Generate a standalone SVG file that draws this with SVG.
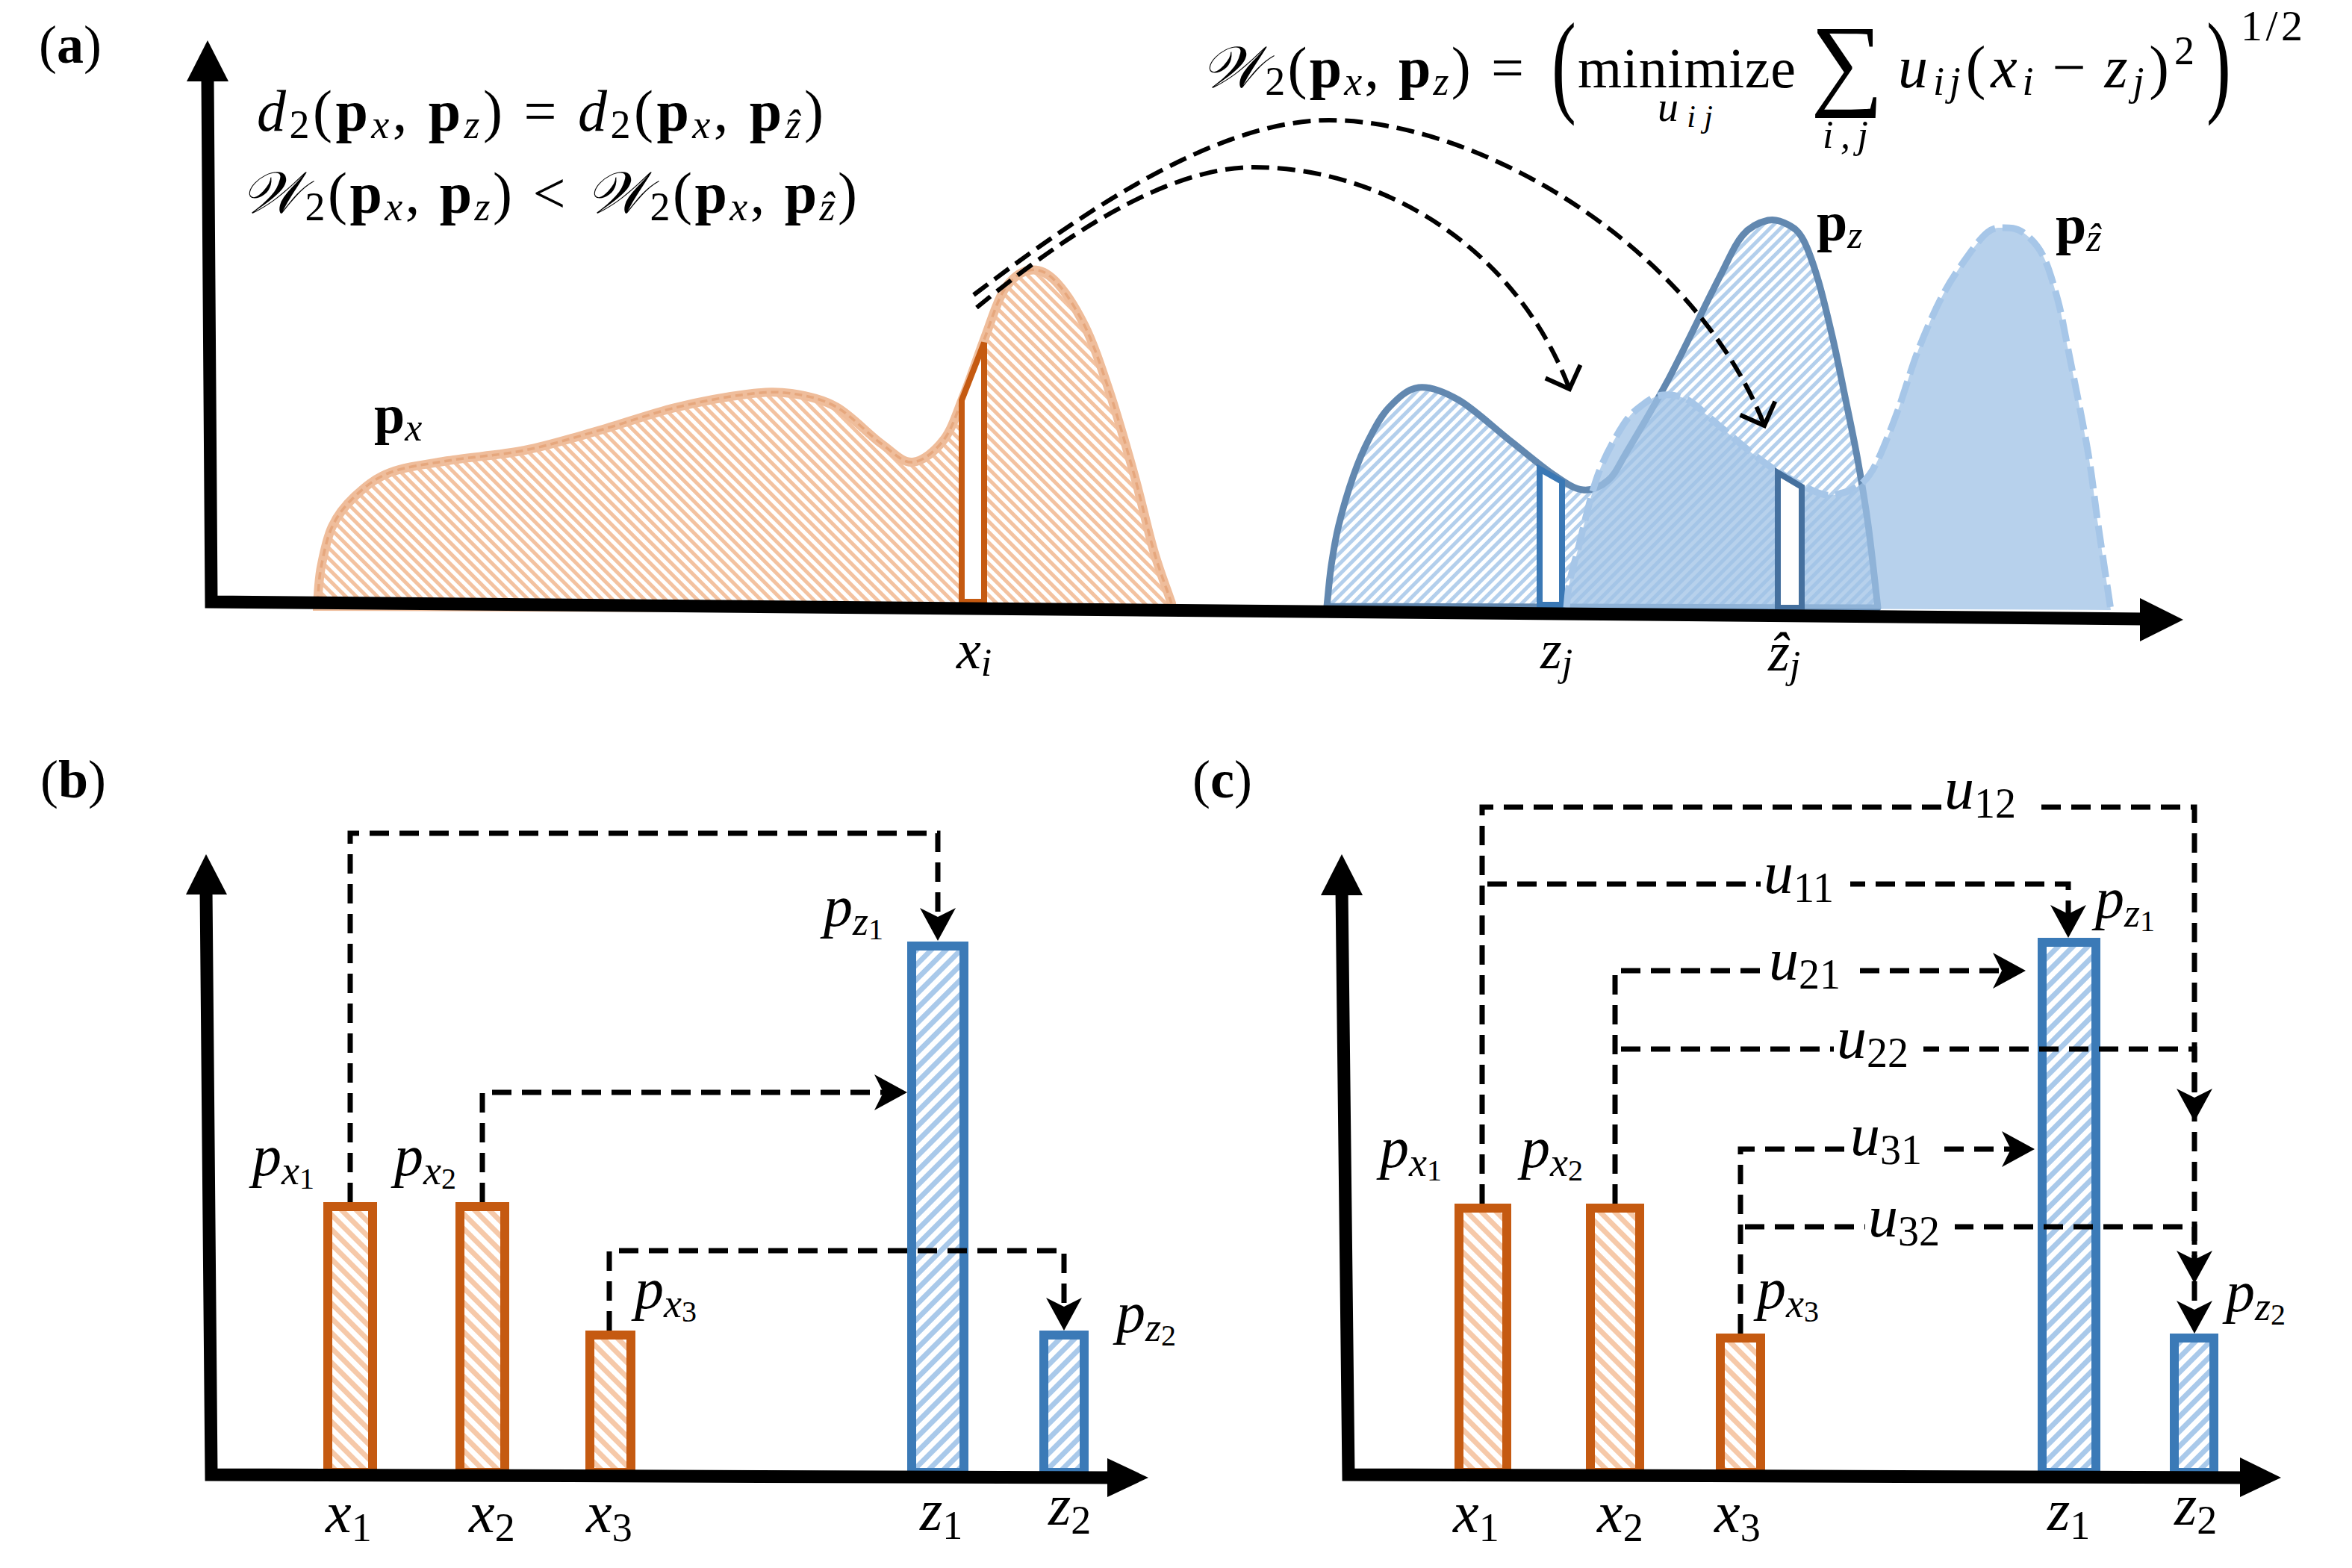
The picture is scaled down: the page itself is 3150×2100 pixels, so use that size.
<svg xmlns="http://www.w3.org/2000/svg" width="3150" height="2100" viewBox="0 0 3150 2100" font-family="Liberation Serif, Times New Roman, serif">
<defs>
<style>
text,tspan{font-family:'Liberation Serif','Times New Roman',serif}
text{fill:#000}
.i{font-style:italic}
.n{font-style:normal}
.b{font-weight:bold}
.ax{fill:none;stroke:#000;stroke-width:17;stroke-linejoin:miter}
.ah{fill:#000}
.dl{fill:none;stroke:#000;stroke-width:7;stroke-dasharray:26 14}
.arc{fill:none;stroke:#000;stroke-width:6;stroke-dasharray:24 11}
.ob{fill:url(#hbo);stroke:#c55a11;stroke-width:12}
.bb{fill:url(#hbb);stroke:#3b7ab7;stroke-width:12}
.lb{font-size:78px}
.wb{fill:#fff}
</style>
<pattern id="hpx" patternUnits="userSpaceOnUse" width="10" height="10" patternTransform="rotate(-45)"><rect width="10" height="10" fill="#fff"/><rect width="5" height="10" fill="#f3c2a0"/></pattern>
<pattern id="hpz" patternUnits="userSpaceOnUse" width="10" height="10" patternTransform="rotate(45)"><rect width="10" height="10" fill="#fff"/><rect width="5" height="10" fill="#b3cfec"/></pattern>
<pattern id="hbo" patternUnits="userSpaceOnUse" width="14" height="14" patternTransform="rotate(-45)"><rect width="14" height="14" fill="#fff"/><rect width="7" height="14" fill="#f6c9a9"/></pattern>
<pattern id="hbb" patternUnits="userSpaceOnUse" width="14" height="14" patternTransform="rotate(45)"><rect width="14" height="14" fill="#fff"/><rect width="7" height="14" fill="#a9c9ea"/></pattern>
<marker id="st" markerUnits="userSpaceOnUse" viewBox="-30 -30 60 60" markerWidth="60" markerHeight="60" refX="0" refY="0" orient="auto"><path d="M20,0 L-24,-24 L-12,0 L-24,24 Z" fill="#000"/></marker>
<marker id="op" markerUnits="userSpaceOnUse" viewBox="-40 -40 80 80" markerWidth="80" markerHeight="80" refX="0" refY="0" orient="auto"><path d="M-25,-25 L0,0 L-25,25" fill="none" stroke="#000" stroke-width="6" stroke-dasharray="none"/></marker>
</defs>
<rect width="3150" height="2100" fill="#fff"/>

<!-- ===== Panel (a) ===== -->
<g id="panel-a">
<text x="52" y="84" font-size="72">(<tspan class="b">a</tspan>)</text>

<g id="curve-px">
<path d="M425,808 C426.7,792 426.7,777.2 430,760 C433.3,742.8 437.5,720.8 445,705 C452.5,689.2 462.2,677 475,665 C487.8,653 501.2,641 522,633 C542.8,625 569.8,622 600,617 C630.2,612 669,609.8 703,603 C737,596.2 770.5,585.5 804,576 C837.5,566.5 871.3,554 904,546 C936.7,538 974,531.2 1000,528 C1026,524.8 1040,524.2 1060,527 C1080,529.8 1100,533.8 1120,545 C1140,556.2 1163,581.7 1180,594 C1197,606.3 1208,619.8 1222,619 C1236,618.2 1252.5,604 1264,589 C1275.5,574 1282,551.3 1291,529 C1300,506.7 1309,478.5 1318,455 C1327,431.5 1335,403.5 1345,388 C1355,372.5 1366.8,364.2 1378,362 C1389.2,359.8 1399.7,362.8 1412,375 C1424.3,387.2 1439.8,410.5 1452,435 C1464.2,459.5 1473.8,488.5 1485,522 C1496.2,555.5 1509,600.2 1519,636 C1529,671.8 1536.7,708.3 1545,737 C1553.3,765.7 1561,784.3 1569,808 L1569,816 L425,812 Z" fill="url(#hpx)" stroke="#efbd9b" stroke-width="12"/>
<path d="M425,808 C426.7,792 426.7,777.2 430,760 C433.3,742.8 437.5,720.8 445,705 C452.5,689.2 462.2,677 475,665 C487.8,653 501.2,641 522,633 C542.8,625 569.8,622 600,617 C630.2,612 669,609.8 703,603 C737,596.2 770.5,585.5 804,576 C837.5,566.5 871.3,554 904,546 C936.7,538 974,531.2 1000,528 C1026,524.8 1040,524.2 1060,527 C1080,529.8 1100,533.8 1120,545 C1140,556.2 1163,581.7 1180,594 C1197,606.3 1208,619.8 1222,619 C1236,618.2 1252.5,604 1264,589 C1275.5,574 1282,551.3 1291,529 C1300,506.7 1309,478.5 1318,455 C1327,431.5 1335,403.5 1345,388 C1355,372.5 1366.8,364.2 1378,362 C1389.2,359.8 1399.7,362.8 1412,375 C1424.3,387.2 1439.8,410.5 1452,435 C1464.2,459.5 1473.8,488.5 1485,522 C1496.2,555.5 1509,600.2 1519,636 C1529,671.8 1536.7,708.3 1545,737 C1553.3,765.7 1561,784.3 1569,808" fill="none" stroke="#e6a77d" stroke-width="3.5" stroke-dasharray="10 6"/>
</g>
<g id="bar-xi"><path d="M1288,806 L1288,536 L1318,459 L1318,806 Z" fill="#fff" stroke="#c55a11" stroke-width="8" stroke-linejoin="miter"/></g>

<g id="curve-pz">
<path d="M1777,812 C1779,793.7 1780.3,775.2 1783,757 C1785.7,738.8 1788,723.2 1793,703 C1798,682.8 1806.3,655 1813,636 C1819.7,617 1825.2,604 1833,589 C1840.8,574 1848.8,557.7 1860,546 C1871.2,534.3 1884.3,520.7 1900,519 C1915.7,517.3 1933.8,524.3 1954,536 C1974.2,547.7 1999.8,572.3 2021,589 C2042.2,605.7 2064.5,624.8 2081,636 C2097.5,647.2 2107.8,654.8 2120,656 C2132.2,657.2 2144,651.8 2154,643 C2164,634.2 2166.7,625.3 2180,603 C2193.3,580.7 2213.8,547 2234,509 C2254.2,471 2284.3,407.3 2301,375 C2317.7,342.7 2322.8,328.3 2334,315 C2345.2,301.7 2357.8,297.3 2368,295 C2378.2,292.7 2387.2,296.7 2395,301 C2402.8,305.3 2408.3,308.7 2415,321 C2421.7,333.3 2428.3,352.7 2435,375 C2441.7,397.3 2448.8,428.2 2455,455 C2461.2,481.8 2466.5,509.2 2472,536 C2477.5,562.8 2483,588.2 2488,616 C2493,643.8 2497.5,670 2502,703 C2506.5,736 2510.7,777 2515,814 L1777,812 Z" fill="url(#hpz)" stroke="#6288b0" stroke-width="9" stroke-linejoin="round"/>
</g>
<g id="bar-zj"><path d="M2062,810 L2062,628 L2092,645 L2092,810 Z" fill="#fff" stroke="#3a78b5" stroke-width="8"/></g>

<g id="curve-pzhat">
<path d="M2098,814 C2099.3,802.7 2099.5,792.8 2102,780 C2104.5,767.2 2106.7,761 2113,737 C2119.3,713 2129.8,664 2140,636 C2150.2,608 2164,584.7 2174,569 C2184,553.3 2191.2,548.7 2200,542 C2208.8,535.3 2216.8,530 2227,529 C2237.2,528 2248.7,529.3 2261,536 C2273.3,542.7 2283.2,554.5 2301,569 C2318.8,583.5 2345.7,607.8 2368,623 C2390.3,638.2 2418.3,653.8 2435,660 C2451.7,666.2 2458,662.3 2468,660 C2478,657.7 2487.2,653.3 2495,646 C2502.8,638.7 2507.2,632.2 2515,616 C2522.8,599.8 2533,573.5 2542,549 C2551,524.5 2559,494.7 2569,469 C2579,443.3 2590.8,416.2 2602,395 C2613.2,373.8 2626,356 2636,342 C2646,328 2654.2,317.2 2662,311 C2669.8,304.8 2675.2,305 2683,305 C2690.8,305 2700.2,304.8 2709,311 C2717.8,317.2 2728.2,326.8 2736,342 C2743.8,357.2 2750.3,380.8 2756,402 C2761.7,423.2 2763.3,435.5 2770,469 C2776.7,502.5 2789.3,564 2796,603 C2802.7,642 2804.8,667.3 2810,703 C2815.2,738.7 2821.3,779 2827,817 L2098,814 Z" fill="#9fc2e6" fill-opacity="0.75" stroke="none"/>
<path d="M2098,814 C2099.3,802.7 2099.5,792.8 2102,780 C2104.5,767.2 2106.7,761 2113,737 C2119.3,713 2129.8,664 2140,636 C2150.2,608 2164,584.7 2174,569 C2184,553.3 2191.2,548.7 2200,542 C2208.8,535.3 2216.8,530 2227,529 C2237.2,528 2248.7,529.3 2261,536 C2273.3,542.7 2283.2,554.5 2301,569 C2318.8,583.5 2345.7,607.8 2368,623 C2390.3,638.2 2418.3,653.8 2435,660 C2451.7,666.2 2458,662.3 2468,660 C2478,657.7 2487.2,653.3 2495,646 C2502.8,638.7 2507.2,632.2 2515,616 C2522.8,599.8 2533,573.5 2542,549 C2551,524.5 2559,494.7 2569,469 C2579,443.3 2590.8,416.2 2602,395 C2613.2,373.8 2626,356 2636,342 C2646,328 2654.2,317.2 2662,311 C2669.8,304.8 2675.2,305 2683,305 C2690.8,305 2700.2,304.8 2709,311 C2717.8,317.2 2728.2,326.8 2736,342 C2743.8,357.2 2750.3,380.8 2756,402 C2761.7,423.2 2763.3,435.5 2770,469 C2776.7,502.5 2789.3,564 2796,603 C2802.7,642 2804.8,667.3 2810,703 C2815.2,738.7 2821.3,779 2827,817" fill="none" stroke="#a6c6e8" stroke-width="9" stroke-dasharray="30 10"/>
</g>
<g id="bar-zjhat"><path d="M2381,814 L2381,633 L2413,652 L2413,814 Z" fill="#fff" stroke="#45709e" stroke-width="8"/></g>

<g id="axes-a">
<path class="ax" d="M278,105 L283,806 L2872,829"/>
<polygon class="ah" points="278,54 250,109 306,109"/>
<polygon class="ah" points="2924,830 2866,801 2866,859"/>
</g>

<g id="labels-a">
<text x="501" y="580" font-size="74"><tspan class="b">p</tspan><tspan class="i" font-size="52" dy="10">x</tspan></text>
<text x="2433" y="322" font-size="74"><tspan class="b">p</tspan><tspan class="i" font-size="52" dy="10">z</tspan></text>
<text x="2753" y="326" font-size="74"><tspan class="b">p</tspan><tspan class="i" font-size="52" dy="10">ẑ</tspan></text>
<text x="1281" y="895" font-size="74" class="i">x<tspan font-size="52" dy="10">i</tspan></text>
<text x="2063" y="895" font-size="74" class="i">z<tspan font-size="52" dy="10">j</tspan></text>
<text x="2368" y="898" font-size="74" class="i">ẑ<tspan font-size="52" dy="10">j</tspan></text>

<text x="344" y="175" font-size="78" textLength="759" lengthAdjust="spacing"><tspan class="i">d</tspan><tspan font-size="54" dy="10">2</tspan><tspan dy="-10">(</tspan><tspan class="b">p</tspan><tspan class="i" font-size="54" dy="10">x</tspan><tspan dy="-10">, </tspan><tspan class="b">p</tspan><tspan class="i" font-size="54" dy="10">z</tspan><tspan dy="-10">)</tspan><tspan dx="24">=</tspan><tspan class="i" dx="24">d</tspan><tspan font-size="54" dy="10">2</tspan><tspan dy="-10">(</tspan><tspan class="b">p</tspan><tspan class="i" font-size="54" dy="10">x</tspan><tspan dy="-10">, </tspan><tspan class="b">p</tspan><tspan class="i" font-size="54" dy="10">ẑ</tspan><tspan dy="-10">)</tspan></text>
<text x="323" y="285" font-size="78" textLength="825" lengthAdjust="spacing"><tspan class="i">𝒲</tspan><tspan font-size="54" dy="10">2</tspan><tspan dy="-10">(</tspan><tspan class="b">p</tspan><tspan class="i" font-size="54" dy="10">x</tspan><tspan dy="-10">, </tspan><tspan class="b">p</tspan><tspan class="i" font-size="54" dy="10">z</tspan><tspan dy="-10">)</tspan><tspan dx="24">&lt;</tspan><tspan class="i" dx="24">𝒲</tspan><tspan font-size="54" dy="10">2</tspan><tspan dy="-10">(</tspan><tspan class="b">p</tspan><tspan class="i" font-size="54" dy="10">x</tspan><tspan dy="-10">, </tspan><tspan class="b">p</tspan><tspan class="i" font-size="54" dy="10">ẑ</tspan><tspan dy="-10">)</tspan></text>

<text x="1609" y="117" font-size="78" textLength="432" lengthAdjust="spacing"><tspan class="i">𝒲</tspan><tspan font-size="54" dy="10">2</tspan><tspan dy="-10">(</tspan><tspan class="b">p</tspan><tspan class="i" font-size="54" dy="10">x</tspan><tspan dy="-10">, </tspan><tspan class="b">p</tspan><tspan class="i" font-size="54" dy="10">z</tspan><tspan dy="-10">)</tspan><tspan dx="24">=</tspan></text>
<text transform="translate(2078,136) scale(0.65,1)" font-size="152">(</text>
<text x="2113" y="117" font-size="76" textLength="292" lengthAdjust="spacing">minimize</text>
<text x="2220" y="162" font-size="56" class="i" textLength="74" lengthAdjust="spacing">u<tspan font-size="42" dy="8">ij</tspan></text>
<text x="2425" y="129" font-size="137">∑</text>
<text x="2441" y="198" font-size="52" class="i" textLength="61" lengthAdjust="spacing">i,j</text>
<text x="2542" y="117" font-size="80" textLength="363" lengthAdjust="spacing"><tspan class="i">u</tspan><tspan class="i" font-size="54" dy="10">ij</tspan><tspan dy="-10">(</tspan><tspan class="i">x</tspan><tspan class="i" font-size="54" dy="10">i</tspan><tspan dy="-10" dx="18">−</tspan><tspan class="i" dx="18">z</tspan><tspan class="i" font-size="54" dy="10">j</tspan><tspan dy="-10">)</tspan></text>
<text x="2912" y="86" font-size="54">2</text>
<text transform="translate(2955,136) scale(0.65,1)" font-size="152">)</text>
<text x="3001" y="54" font-size="58" textLength="83" lengthAdjust="spacing">1/2</text>
</g>

<g id="connectors-a">
<path class="arc" d="M1304,395 C1430,300 1620,161 1780,161 C1980,161 2270,330 2363,570" marker-end="url(#op)"/>
<path class="arc" d="M1308,412 C1420,320 1560,224 1679,224 C1850,224 2030,330 2102,521" marker-end="url(#op)"/>
</g>
</g>

<!-- ===== Panel (b) ===== -->
<g id="panel-b">
<text x="54" y="1068" font-size="72">(<tspan class="b">b</tspan>)</text>
<g id="b-bar-x1"><rect class="ob" x="439" y="1616" width="60" height="356"/></g>
<g id="b-bar-x2"><rect class="ob" x="616" y="1616" width="60" height="356"/></g>
<g id="b-bar-x3"><rect class="ob" x="790" y="1788" width="55" height="184"/></g>
<g id="b-bar-z1"><rect class="bb" x="1221" y="1267" width="70" height="705"/></g>
<g id="b-bar-z2"><rect class="bb" x="1398" y="1788" width="54" height="184"/></g>
<g id="axes-b">
<path class="ax" d="M276,1190 L283,1975 L1488,1979"/>
<polygon class="ah" points="276,1144 249,1198 304,1198"/>
<polygon class="ah" points="1538,1979 1483,1953 1483,2005"/>
</g>
<g id="connectors-b">
<path class="dl" d="M469,1610 V1116 H1256 V1240" marker-end="url(#st)"/>
<path class="dl" d="M646,1610 V1463 H1195" marker-end="url(#st)"/>
<path class="dl" d="M816,1782 V1675 H1425 V1762" marker-end="url(#st)"/>
</g>
<g id="labels-b" class="lb">
<text x="338" y="1574" class="i">p<tspan font-size="54" dy="12">x</tspan><tspan font-size="40" dy="6" class="n">1</tspan></text>
<text x="528" y="1574" class="i">p<tspan font-size="54" dy="12">x</tspan><tspan font-size="40" dy="6" class="n">2</tspan></text>
<text x="850" y="1752" class="i">p<tspan font-size="54" dy="12">x</tspan><tspan font-size="40" dy="6" class="n">3</tspan></text>
<text x="1103" y="1240" class="i">p<tspan font-size="54" dy="12">z</tspan><tspan font-size="40" dy="6" class="n">1</tspan></text>
<text x="1495" y="1784" class="i">p<tspan font-size="54" dy="12">z</tspan><tspan font-size="40" dy="6" class="n">2</tspan></text>
<text x="436" y="2052" class="i">x<tspan font-size="54" dy="12" class="n">1</tspan></text>
<text x="628" y="2052" class="i">x<tspan font-size="54" dy="12" class="n">2</tspan></text>
<text x="785" y="2052" class="i">x<tspan font-size="54" dy="12" class="n">3</tspan></text>
<text x="1232" y="2049" class="i">z<tspan font-size="54" dy="12" class="n">1</tspan></text>
<text x="1404" y="2042" class="i">z<tspan font-size="54" dy="12" class="n">2</tspan></text>
</g>
</g>

<!-- ===== Panel (c) ===== -->
<g id="panel-c">
<text x="1597" y="1068" font-size="72">(<tspan class="b">c</tspan>)</text>
<g id="c-bar-x1"><rect class="ob" x="1954" y="1618" width="64" height="354"/></g>
<g id="c-bar-x2"><rect class="ob" x="2130" y="1618" width="66" height="354"/></g>
<g id="c-bar-x3"><rect class="ob" x="2304" y="1792" width="54" height="180"/></g>
<g id="c-bar-z1"><rect class="bb" x="2735" y="1262" width="72" height="710"/></g>
<g id="c-bar-z2"><rect class="bb" x="2912" y="1792" width="53" height="180"/></g>
<g id="axes-c">
<path class="ax" d="M1797,1190 L1806,1975 L3005,1979"/>
<polygon class="ah" points="1797,1144 1769,1199 1825,1199"/>
<polygon class="ah" points="3055,1979 3000,1952 3000,2005"/>
</g>
<g id="connectors-c">
<path class="dl" d="M1985,1612 V1081 H2939 V1766" marker-end="url(#st)"/>
<path class="dl" d="M1992,1184 H2770 V1236" marker-end="url(#st)"/>
<path class="dl" d="M2163,1612 V1300 H2693" marker-end="url(#st)"/>
<path class="dl" d="M2171,1405 H2939 V1482" marker-end="url(#st)"/>
<path class="dl" d="M2331,1786 V1539 H2705" marker-end="url(#st)"/>
<path class="dl" d="M2337,1643 H2939 V1699" marker-end="url(#st)"/>
</g>
<g id="labels-c" class="lb">
<rect class="wb" x="2600" y="1038" width="120" height="62"/>
<text x="2604" y="1083" font-size="80" class="i">u<tspan font-size="56" dy="12" class="n">12</tspan></text>
<rect class="wb" x="2358" y="1151" width="120" height="62"/>
<text x="2362" y="1196" font-size="80" class="i">u<tspan font-size="56" dy="12" class="n">11</tspan></text>
<rect class="wb" x="2365" y="1267" width="120" height="62"/>
<text x="2369" y="1312" font-size="80" class="i">u<tspan font-size="56" dy="12" class="n">21</tspan></text>
<rect class="wb" x="2456" y="1372" width="120" height="62"/>
<text x="2460" y="1417" font-size="80" class="i">u<tspan font-size="56" dy="12" class="n">22</tspan></text>
<rect class="wb" x="2474" y="1502" width="120" height="62"/>
<text x="2478" y="1547" font-size="80" class="i">u<tspan font-size="56" dy="12" class="n">31</tspan></text>
<rect class="wb" x="2498" y="1611" width="120" height="62"/>
<text x="2502" y="1656" font-size="80" class="i">u<tspan font-size="56" dy="12" class="n">32</tspan></text>
<text x="1848" y="1563" class="i">p<tspan font-size="54" dy="12">x</tspan><tspan font-size="40" dy="6" class="n">1</tspan></text>
<text x="2037" y="1563" class="i">p<tspan font-size="54" dy="12">x</tspan><tspan font-size="40" dy="6" class="n">2</tspan></text>
<text x="2353" y="1752" class="i">p<tspan font-size="54" dy="12">x</tspan><tspan font-size="40" dy="6" class="n">3</tspan></text>
<text x="2806" y="1229" class="i">p<tspan font-size="54" dy="12">z</tspan><tspan font-size="40" dy="6" class="n">1</tspan></text>
<text x="2981" y="1756" class="i">p<tspan font-size="54" dy="12">z</tspan><tspan font-size="40" dy="6" class="n">2</tspan></text>
<text x="1946" y="2052" class="i">x<tspan font-size="54" dy="12" class="n">1</tspan></text>
<text x="2139" y="2052" class="i">x<tspan font-size="54" dy="12" class="n">2</tspan></text>
<text x="2296" y="2052" class="i">x<tspan font-size="54" dy="12" class="n">3</tspan></text>
<text x="2742" y="2049" class="i">z<tspan font-size="54" dy="12" class="n">1</tspan></text>
<text x="2912" y="2042" class="i">z<tspan font-size="54" dy="12" class="n">2</tspan></text>
</g>
</g>
</svg>
